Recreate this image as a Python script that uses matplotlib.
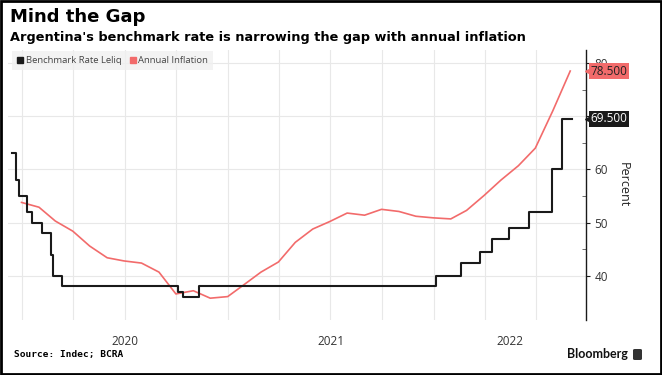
"""
Mind the Gap: Argentina's Leliq rate vs annual inflation.
"""

import matplotlib
matplotlib.use('Agg')
import matplotlib.pyplot as plt
import matplotlib.dates as mdates
import matplotlib.transforms as mtransforms
from matplotlib.patches import Rectangle, FancyBboxPatch
import pandas as pd

# Benchmark rate (Leliq), step changes
leliq_dates = ['2019-12-14', '2019-12-22', '2019-12-27', '2020-01-09', '2020-01-18',
               '2020-02-06', '2020-02-21', '2020-02-24', '2020-03-12', '2020-10-04',
               '2020-10-13', '2020-11-10', '2022-01-05', '2022-02-18', '2022-03-23',
               '2022-04-14', '2022-05-14', '2022-06-18', '2022-07-30', '2022-08-16',
               '2022-09-03']
leliq_values = [63, 58, 55, 52, 50, 48, 44, 40, 38, 37, 36, 38, 40, 42.5, 44.5,
                47, 49, 52, 60, 69.5, 69.5]

# Annual inflation, monthly (month end)
inflation_months = pd.date_range('2019-12-31', '2022-08-31', freq='ME')
inflation_values = [53.8, 52.9, 50.3, 48.4, 45.6, 43.4, 42.8, 42.4, 40.7, 36.6, 37.2, 35.8,
                    36.1, 38.5, 40.7, 42.6, 46.3, 48.8, 50.2, 51.8, 51.4, 52.5, 52.1, 51.2,
                    50.9, 50.7, 52.3, 55.1, 58.0, 60.7, 64.0, 71.0, 78.5]

years = ['2020', '2021', '2022']
y_ticks = [40, 50, 60, 70, 80]
y_labels = ['40', '50', '60', '', '80']  # 70 sits behind the Leliq tag

black = '#1a1a1a'
red = '#f26b6b'
grid_color = '#e8e8e8'

fig = plt.figure(figsize=(6.62, 3.75), dpi=100)
ax = fig.add_axes([8 / 662, 1 - 320 / 375, 578 / 662, 270 / 375])

ax.plot(pd.to_datetime(leliq_dates), leliq_values, drawstyle='steps-post',
        color=black, lw=1.5, zorder=3)
ax.plot(inflation_months, inflation_values, color=red, lw=1.2, zorder=2)

x_left = pd.Timestamp('2019-12-07')
x_right = pd.Timestamp('2022-09-28')
ax.set_xlim(x_left, x_right)
ax.set_ylim(31.7, 82.45)

# quarterly vertical gridlines, year labels centred on the visible part of each year
ax.xaxis.set_major_locator(mdates.MonthLocator(bymonth=[1, 4, 7, 10]))
ax.xaxis.set_major_formatter(plt.NullFormatter())
centers = []
for y in years:
    a = max(pd.Timestamp(f'{y}-01-01'), x_left)
    b = min(pd.Timestamp(f'{int(y) + 1}-01-01'), x_right)
    centers.append(a + (b - a) / 2)
ax.set_xticks(centers, minor=True)
ax.set_xticklabels(years, minor=True)
ax.tick_params(axis='x', which='both', length=0, pad=11, labelsize=8.5,
               labelcolor='#333333')
for lab in ax.get_xticklabels(minor=True):
    lab.set_fontfamily('Open Sans')

ax.yaxis.tick_right()
ax.yaxis.set_label_position('right')
ax.set_yticks(y_ticks)
ax.set_yticklabels(y_labels)
ax.set_yticks([45, 55, 65, 75], minor=True)
ax.tick_params(axis='y', which='major', length=3, direction='out', pad=3,
               labelsize=8.5, labelcolor='#333333', color=black)
ax.tick_params(axis='y', which='minor', length=3, direction='in', color='#555555')
for lab in ax.get_yticklabels():
    lab.set_fontfamily('Open Sans')
ax.set_ylabel('Percent', rotation=270, labelpad=16, fontsize=9,
              fontfamily='Open Sans', color='#222222')

ax.grid(True, which='major', color=grid_color, lw=0.8)
ax.set_axisbelow(True)
for side in ['top', 'left', 'bottom']:
    ax.spines[side].set_visible(False)
ax.spines['right'].set_color(black)
ax.spines['right'].set_linewidth(1.0)

# last-value tags on the axis
trans = mtransforms.blended_transform_factory(ax.transAxes, ax.transData)
for val, face, txt in [(inflation_values[-1], red, '#222222'),
                       (leliq_values[-1], black, 'white')]:
    ax.text(1.008, val, f'{val:.3f}', transform=trans, ha='left', va='center',
            fontsize=8.5, fontfamily='Open Sans', color=txt, zorder=6,
            bbox=dict(boxstyle='square,pad=0.12', fc=face, ec='none'))
    ax.plot([1.006], [val], marker='<', ms=6, color=face, transform=trans,
            clip_on=False, zorder=5)

# legend with square markers
handles = [plt.Line2D([], [], ls='none', marker='s', ms=4.5, color=black),
           plt.Line2D([], [], ls='none', marker='s', ms=4.5, color=red)]
leg = ax.legend(handles, ['Benchmark Rate Leliq', 'Annual Inflation'], loc='upper left',
                bbox_to_anchor=(0.005, 1.0), ncol=2, frameon=True, fancybox=False,
                handlelength=0.7, handletextpad=0.2, columnspacing=0.9,
                borderpad=0.55, borderaxespad=0.1,
                prop={'family': 'Open Sans', 'size': 6.8})
leg.get_frame().set_facecolor('#f0f0f0')
leg.get_frame().set_edgecolor('none')
for t in leg.get_texts():
    t.set_color('#444444')

# titles and footer
fig.text(10 / 662, 1 - 17 / 375, 'Mind the Gap', fontsize=13, fontweight='bold',
         family='DejaVu Sans', va='center', ha='left', color='black')
fig.text(10 / 662, 1 - 38 / 375,
         "Argentina's benchmark rate is narrowing the gap with annual inflation",
         fontsize=9.3, fontweight='bold', family='DejaVu Sans', va='center',
         ha='left', color='black')
fig.text(14 / 662, 1 - 355 / 375, 'Source: Indec; BCRA', fontsize=6.8,
         fontweight='bold', family='DejaVu Sans Mono', va='center', ha='left')
fig.text(628 / 662, 1 - 354 / 375, 'Bloomberg', fontsize=9, fontweight='bold',
         family='Lato', va='center', ha='right', color='#111111')
fig.patches.append(FancyBboxPatch((633 / 662, 1 - 360 / 375), 9 / 662, 11 / 375,
                                  boxstyle='round,pad=0,rounding_size=0.003',
                                  transform=fig.transFigure, fc='#333333', ec='none'))

# outer frame
fig.patches.append(Rectangle((0.0015, 0.003), 0.997, 0.994, transform=fig.transFigure,
                             fill=False, ec='black', lw=2))

fig.savefig('out.png', dpi=100, facecolor='white')
plt.close(fig)
